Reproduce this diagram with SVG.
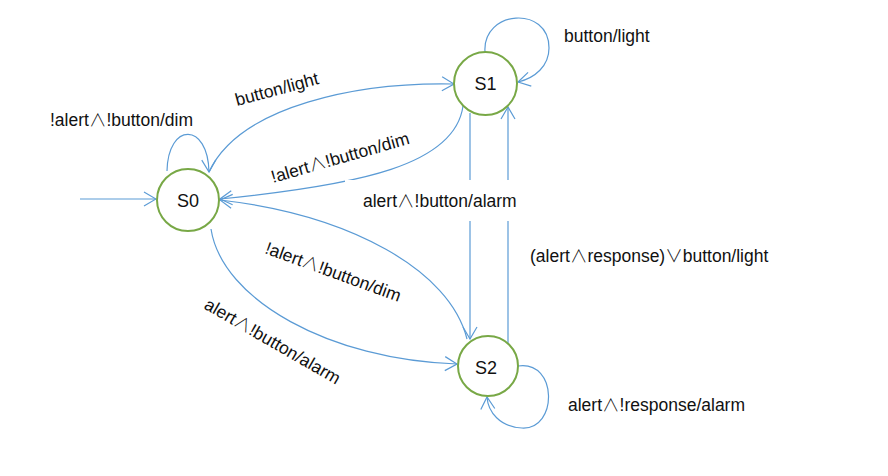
<svg xmlns="http://www.w3.org/2000/svg" width="888" height="476" viewBox="0 0 888 476">
<style>
.st{fill:#fff;stroke:#78a846;stroke-width:2}
.c{fill:none;stroke:#5b9bd5;stroke-width:1.2}
.t{font-family:"Liberation Sans",Arial,sans-serif;font-size:17.5px;fill:#111}
.n{font-family:"Liberation Sans",Arial,sans-serif;font-size:18px;fill:#111;text-anchor:middle}
.w{font-family:"Noto Sans CJK SC","Noto Sans CJK JP",sans-serif;font-weight:300}
</style>
<defs>
<marker id="a" markerUnits="userSpaceOnUse" markerWidth="14" markerHeight="16" viewBox="0 0 14 16" refX="13" refY="8" orient="auto">
<path d="M1,1 L13,8 L1,15" fill="none" stroke="#5b9bd5" stroke-width="1.2"/>
</marker>
</defs>
<g id="connectors">
<path class="c" d="M80,199 L156,199" marker-end="url(#a)"/>
<path class="c" d="M167,171 C168,122 208,122 209,172" marker-end="url(#a)"/>
<path class="c" d="M209,172 C240,105 360,82 454,84" marker-end="url(#a)"/>
<path class="c" d="M463,106 C455,165 360,185 220,199" marker-end="url(#a)"/>
<path class="c" d="M467,339 C450,270 350,215 220,200" marker-end="url(#a)"/>
<path class="c" d="M211,229 C222,300 330,360 457,364" marker-end="url(#a)"/>
<path class="c" d="M470,113 L470,339" marker-end="url(#a)"/>
<path class="c" d="M508,344 L508,107" marker-end="url(#a)"/>
<path class="c" d="M485,52 C482,10 549,5 549,48 C549,66 535,78 518,82" marker-end="url(#a)"/>
<path class="c" d="M518,366 C558,360 558,430 522,428 C500,427 488,412 487,397" marker-end="url(#a)"/>
<rect x="345" y="180" width="185" height="41" fill="#fff"/>
</g>
<g id="S0"><circle class="st" cx="188" cy="200" r="31"/><text class="n" x="188" y="207">S0</text></g>
<g id="S1"><circle class="st" cx="485.5" cy="83.5" r="31.5"/><text class="n" x="485.5" y="90">S1</text></g>
<g id="S2"><circle class="st" cx="488" cy="366" r="30"/><text class="n" x="486" y="374">S2</text></g>
<g id="labels">
<text class="t" x="50" y="126">!alert<tspan class="w">∧</tspan>!button/dim</text>
<text class="t" transform="translate(237,106) rotate(-15)">button/light</text>
<text class="t" transform="translate(273,183) rotate(-16)">!alert<tspan class="w">∧</tspan>!button/dim</text>
<text class="t" x="564" y="42">button/light</text>
<text class="t" x="363" y="207">alert<tspan class="w">∧</tspan>!button/alarm</text>
<text class="t" x="530" y="262">(alert<tspan class="w">∧</tspan>response)<tspan class="w">∨</tspan>button/light</text>
<text class="t" transform="translate(264,253) rotate(20)">!alert<tspan class="w">∧</tspan>!button/dim</text>
<text class="t" transform="translate(203,308) rotate(30)">alert<tspan class="w">∧</tspan>!button/alarm</text>
<text class="t" x="568" y="411">alert<tspan class="w">∧</tspan>!response/alarm</text>
</g>
</svg>
